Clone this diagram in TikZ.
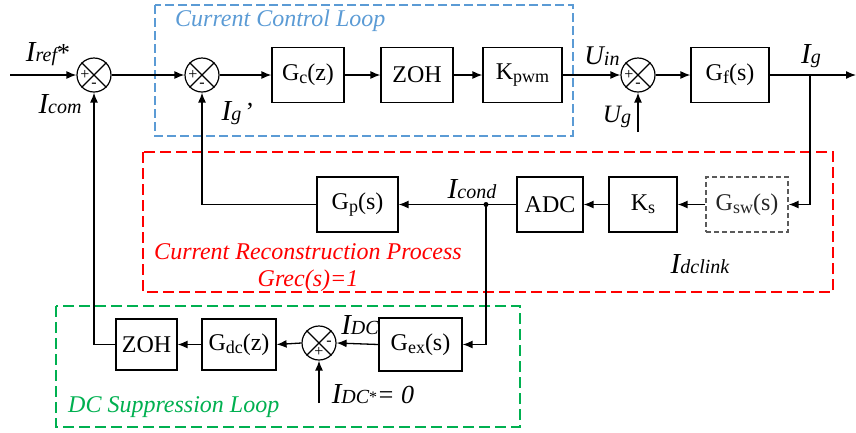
\documentclass[tikz,border=0pt]{standalone}
\usepackage{fontspec}
\setmainfont{Liberation Serif}
\usetikzlibrary{arrows.meta}
\definecolor{cblue}{RGB}{91,155,213}
\definecolor{cgreen}{RGB}{0,176,80}
\definecolor{cgray}{RGB}{90,90,90}
\newcommand\bsub[1]{\raisebox{-0.25ex}{\fontsize{18}{18}\selectfont #1}}
\newcommand\lsub[1]{\raisebox{-0.15ex}{\fontsize{20}{20}\selectfont\itshape #1}}
\newcommand\bigI{{\fontsize{29}{29}\selectfont\itshape I}}
\tikzset{
  blk/.style={draw, line width=1.2pt, inner sep=0pt, minimum height=55pt, font=\fontsize{24}{24}\selectfont},
  sumc/.style={draw, circle, minimum size=34pt, inner sep=0pt, line width=1.2pt},
  sgn/.style={font=\fontsize{16}{16}\selectfont, inner sep=0pt},
  conn/.style={line width=1.3pt, -{Latex[length=10pt,width=8pt]}},
  wire/.style={line width=1.3pt},
  lbl/.style={inner sep=0pt},
  ttl/.style={inner sep=0pt, font=\fontsize{24}{24}\selectfont\itshape},
}
\begin{document}
\begin{tikzpicture}[x=1pt,y=-1pt]
\useasboundingbox (0,0) rectangle (856,432);
% group frames
\draw[cblue, line width=1.3pt, dash pattern=on 9pt off 4pt] (155,5) rectangle (573,136);
\draw[red, line width=1.3pt, dash pattern=on 11pt off 5pt] (143,152) rectangle (833,292);
\draw[cgreen, line width=1.3pt, dash pattern=on 11pt off 5pt] (56,306) rectangle (520,427);
\node[ttl, cblue, anchor=west] (tblue) at (175,21) {Current Control Loop};
\node[ttl, red] (tred1) at (308,252) {Current Reconstruction Process};
\node[ttl, red] (tred2) at (308,281) {Grec(s)=1};
\node[ttl, cgreen, anchor=west] (tgreen) at (68,407) {DC Suppression Loop};
% sums
\node[sumc] (s1) at (94,75) {};
\node[sumc] (s2) at (202,75) {};
\node[sumc] (s3) at (638,75) {};
\node[sumc] (s4) at (319,343) {};
\foreach \s in {s1,s2,s3,s4}{
  \draw[line width=1.2pt] (\s.north east) -- (\s.south west);
  \draw[line width=1.2pt] (\s.north west) -- (\s.south east);
}
\foreach \s in {s1,s2,s3}{
  \node[sgn] (\s p) at ([xshift=-9pt]\s.center) {+};
  \node[sgn] (\s m) at ([yshift=-10pt]\s.center) {-};
}
\node[sgn] (s4m) at ([xshift=10pt]s4.center) {-};
\node[sgn] (s4p) at ([yshift=-9pt]s4.center) {+};
% blocks
\node[blk, minimum width=72pt] (gc) at (308,75) {G\bsub{c}(z)};
\node[blk, minimum width=72pt] (zoh1) at (417,75) {ZOH};
\node[blk, minimum width=79pt] (kpwm) at (522.5,75) {K\bsub{pwm}};
\node[blk, minimum width=78pt] (gf) at (730,75) {G\bsub{f}(s)};
\node[blk, minimum width=81pt] (gp) at (357.5,204.5) {G\bsub{p}(s)};
\node[blk, minimum width=66pt] (adc) at (550,204.5) {ADC};
\node[blk, minimum width=68pt] (ks) at (643,204.5) {K\bsub{s}};
\node[blk, minimum width=82pt, draw=cgray, dash pattern=on 5pt off 3pt, text=black!85] (gsw) at (747,204.5) {G\bsub{sw}(s)};
\node[blk, minimum width=61pt, minimum height=51pt] (zoh2) at (146.5,344.5) {ZOH};
\node[blk, minimum width=74pt, minimum height=51pt] (gdc) at (239,344.5) {G\bsub{dc}(z)};
\node[blk, minimum width=83pt, minimum height=53pt] (gex) at (420.5,344.5) {G\bsub{ex}(s)};
% coordinates
\coordinate (in) at (10,75);
\coordinate (out) at (856,75);
\coordinate (br) at (810,75);
\coordinate (jn) at (486,204.5);
\coordinate (ugin) at (638,132);
\coordinate (dcin) at (319,403);
% connectors
\draw[conn] (in) -- (s1.west);
\draw[conn] (s1.east) -- (s2.west);
\draw[conn] (s2.east) -- (gc.west);
\draw[conn] (gc.east) -- (zoh1.west);
\draw[conn] (zoh1.east) -- (kpwm.west);
\draw[conn] (kpwm.east) -- (s3.west);
\draw[conn] (s3.east) -- (gf.west);
\draw[conn] (gf.east) -- (out);
\draw[conn] (ugin) -- (s3.south);
\draw[conn] (br) |- (gsw.east);
\draw[conn] (gsw.west) -- (ks.east);
\draw[conn] (ks.west) -- (adc.east);
\draw[conn] (adc.west) -- (gp.east);
\draw[conn] (gp.west) -| (s2.south);
\draw[conn] (jn) |- (gex.east);
\fill (jn) circle (2.5pt);
\draw[conn] (gex.west) -- (s4.east);
\draw[conn] (s4.west) -- (gdc.east);
\draw[conn] (gdc.west) -- (zoh2.east);
\draw[conn] (zoh2.west) -| (s1.south);
\draw[conn] (dcin) -- (s4.south);
% signal labels
\node[lbl] (lref) at (48,54) {\bigI\lsub{ref}{\fontsize{26}{26}\selectfont *}};
\node[lbl] (lcom) at (60,104) {\bigI\lsub{com}};
\node[lbl] (lig2) at (238,113) {\bigI\lsub{g}{\fontsize{26}{26}\selectfont\,’}};
\node[lbl] (luin) at (602,56) {{\fontsize{27}{27}\selectfont\itshape U}\lsub{in}};
\node[lbl] (lug) at (617,117) {{\fontsize{25}{25}\selectfont\itshape U}\lsub{g}};
\node[lbl] (lig) at (811,56) {\bigI\lsub{g}};
\node[lbl] (lcond) at (472,189) {\bigI\lsub{cond}};
\node[lbl] (ldcl) at (700,264) {\bigI\lsub{dclink}};
\node[lbl] (ldc) at (360,325) {\bigI\lsub{DC}};
\node[lbl] (ldcs) at (373,394) {\bigI\lsub{DC}\raisebox{0.2ex}{\fontsize{16}{16}\selectfont *}{\fontsize{26}{26}\selectfont\itshape = 0}};
\end{tikzpicture}
\end{document}
